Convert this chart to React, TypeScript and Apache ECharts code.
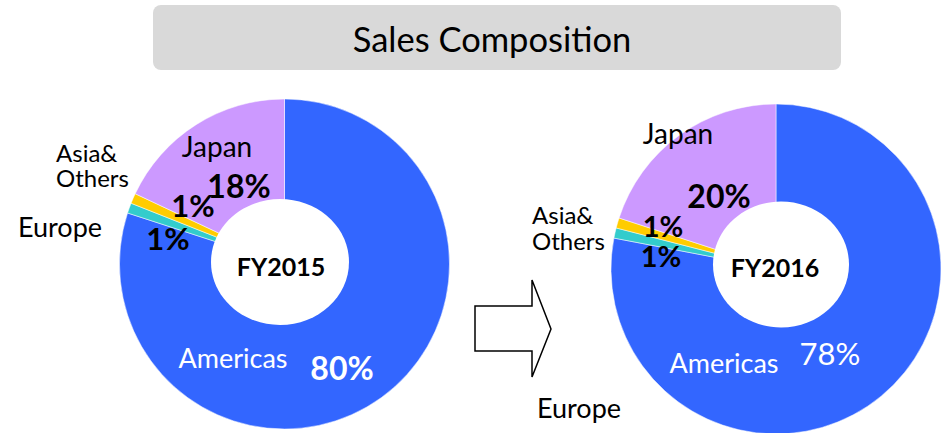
import React, { useEffect, useRef } from "react";
import * as echarts from "echarts";

const regions = ["Americas", "Europe", "Asia&Others", "Japan"];
const colors = ["#3366FF", "#33CCCC", "#FFCC00", "#CC99FF"];
const fy2015 = [80, 1, 1, 18];
const fy2016 = [78, 1, 1, 20];
const years = ["FY2015", "FY2016"];
const title = "Sales Composition";

const FONT = "Lato, 'Open Sans', sans-serif";

function txt(text: string, x: number, y: number, size: number, opts: any = {}) {
  return {
    type: "text",
    x,
    y,
    z: 100,
    style: {
      text,
      fontSize: size,
      fontFamily: FONT,
      fontWeight: opts.bold ? "bold" : "normal",
      fill: opts.fill || "#000",
      textAlign: opts.align || "center",
      textVerticalAlign: "middle",
      lineHeight: opts.lineHeight,
    },
  };
}

export default function App() {
  const ref = useRef<HTMLDivElement>(null);
  useEffect(() => {
    if (!ref.current) return;
    const chart = echarts.init(ref.current, null, { renderer: "svg" });
    const mk = (vals: number[], cx: number, cy: number) => ({
      type: "pie",
      center: [cx, cy],
      radius: [55, 165],
      startAngle: 90,
      clockwise: true,
      silent: true,
      label: { show: false },
      labelLine: { show: false },
      itemStyle: { borderColor: "#fff", borderWidth: 0.5 },
      data: vals.map((v, i) => ({ name: regions[i], value: v, itemStyle: { color: colors[i] } })),
    });
    const asiaLabel = regions[2].replace("&", "&\n");
    chart.setOption({
      animation: false,
      backgroundColor: "#fff",
      series: [mk(fy2015, 284.5, 264), mk(fy2016, 776, 269)],
      graphic: [
        {
          type: "rect",
          shape: { x: 153, y: 5, width: 688, height: 65, r: 8 },
          style: { fill: "#D9D9D9" },
        },
        txt(title, 492, 38, 34.5),
        // white holes
        { type: "ellipse", shape: { cx: 280, cy: 262, rx: 69, ry: 63 }, style: { fill: "#fff" }, z: 50 },
        { type: "ellipse", shape: { cx: 781, cy: 264.5, rx: 68, ry: 63 }, style: { fill: "#fff" }, z: 50 },
        txt(years[0], 281, 266, 25, { bold: true }),
        txt(years[1], 775, 267, 25, { bold: true }),
        // arrow
        {
          type: "polygon",
          shape: { points: [[475, 306], [532, 306], [532, 280], [551, 329], [532, 377], [532, 351], [475, 351]] },
          style: { fill: "#fff", stroke: "#000", lineWidth: 1.5 },
        },
        // left labels
        txt(asiaLabel, 56, 164.5, 24, { align: "left", lineHeight: 25 }),
        txt(regions[1], 18, 226, 27, { align: "left" }),
        txt(regions[3], 217, 146, 28),
        txt(`${fy2015[3]}%`, 239, 185, 32, { bold: true }),
        txt(`${fy2015[2]}%`, 193, 205, 31, { bold: true, lineHeight: 31 }),
        txt(`${fy2015[1]}%`, 168, 238, 31, { bold: true, lineHeight: 31 }),
        txt(regions[0], 233, 357, 27, { fill: "#fff" }),
        txt(`${fy2015[0]}%`, 342, 367, 32, { bold: true, fill: "#fff" }),
        // right labels
        txt(regions[3], 678, 133, 28),
        txt(`${fy2016[3]}%`, 719, 195, 32, { bold: true }),
        txt(asiaLabel, 532, 227, 24, { align: "left", lineHeight: 26 }),
        txt(`${fy2016[2]}%`, 663, 225, 29, { bold: true, lineHeight: 29 }),
        txt(`${fy2016[1]}%`, 661, 255, 29, { bold: true, lineHeight: 29 }),
        txt(regions[0], 724, 362, 27, { fill: "#fff" }),
        txt(`${fy2016[0]}%`, 830, 353, 31, { fill: "#fff" }),
        txt(regions[1], 537, 407, 27, { align: "left" }),
      ],
    });
    return () => chart.dispose();
  }, []);
  return (
    <div
      ref={ref}
      style={{ position: "fixed", left: 0, top: 0, width: 942, height: 433 }}
    />
  );
}
